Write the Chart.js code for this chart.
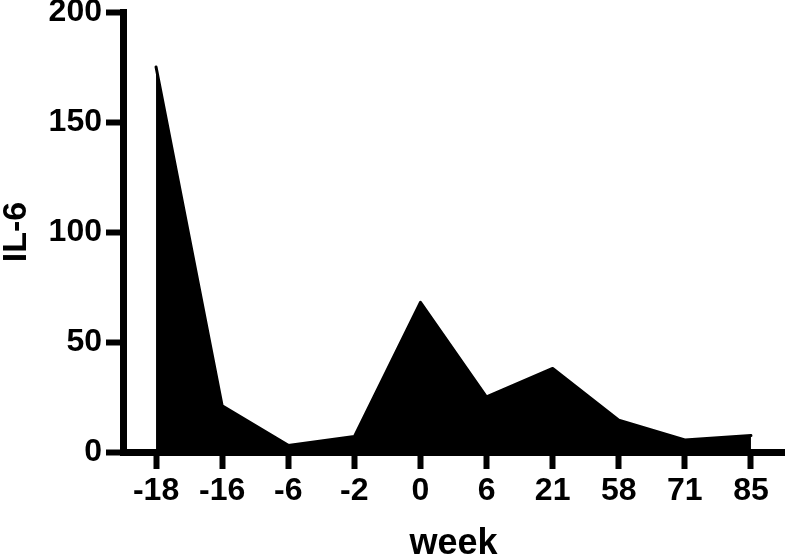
<!DOCTYPE html>
<html>
<head>
<meta charset="utf-8">
<script src="https://cdn.jsdelivr.net/npm/chart.js@4.4.1/dist/chart.umd.min.js"></script>
<style>
  html, body { margin: 0; padding: 0; background: #fff; }
  #wrap { width: 787px; height: 558px; position: relative; }
</style>
</head>
<body>
<div id="wrap"><canvas id="c"></canvas></div>
<script>
const weeks = ["-18", "-16", "-6", "-2", "0", "6", "21", "58", "71", "85"];
const il6 = [175, 21, 3, 7, 68, 25, 38, 14.5, 5.5, 7.5];
const yTicks = [0, 50, 100, 150, 200];

const FONT = "'Liberation Sans', Arial, Helvetica, sans-serif";

new Chart(document.getElementById('c'), {
  type: 'line',
  data: {
    labels: weeks,
    datasets: [{
      data: il6,
      borderColor: '#000',
      backgroundColor: '#000',
      borderWidth: 3,
      borderCapStyle: 'round',
      borderJoinStyle: 'round',
      fill: 'origin',
      pointRadius: 0,
      tension: 0
    }]
  },
  options: {
    responsive: true,
    maintainAspectRatio: false,
    animation: false,
    plugins: { legend: { display: false }, tooltip: { enabled: false } },
    layout: { padding: { top: 12, right: 3, left: 0, bottom: 0 } },
    scales: {
      x: {
        type: 'category',
        offset: true,
        grid: { display: true, drawOnChartArea: false, offset: false, drawTicks: true, tickLength: 17, tickWidth: 6, tickColor: '#000', color: '#000' },
        border: { display: true, color: '#000', width: 7 },
        ticks: { color: '#000', font: { family: FONT, size: 32, weight: 'bold' }, padding: 3, maxRotation: 0, autoSkip: false },
        title: { display: true, text: 'week', color: '#000', font: { family: FONT, size: 36, weight: 'bold', lineHeight: 1 }, padding: { top: 0, bottom: -4 } },
        afterFit: (s) => { s.height = 106; s.paddingLeft = 0; s.paddingRight = 0; }
      },
      y: {
        min: 0,
        max: 200,
        afterBuildTicks: (s) => { s.ticks = yTicks.map(v => ({ value: v })); },
        grid: { display: true, drawOnChartArea: false, drawTicks: true, tickLength: 17, tickWidth: 6, tickColor: '#000', color: '#000' },
        border: { display: true, color: '#000', width: 7 },
        ticks: { color: '#000', font: { family: FONT, size: 32, weight: 'bold' }, padding: 4 },
        title: { display: true, text: 'IL-6', color: '#000', font: { family: FONT, size: 34, weight: 'bold', lineHeight: 1 }, padding: { top: 0, bottom: 0 } },
        afterFit: (s) => { s.width = 123; s.paddingTop = 0; s.paddingBottom = 0; }
      }
    }
  }
});
</script>
</body>
</html>
